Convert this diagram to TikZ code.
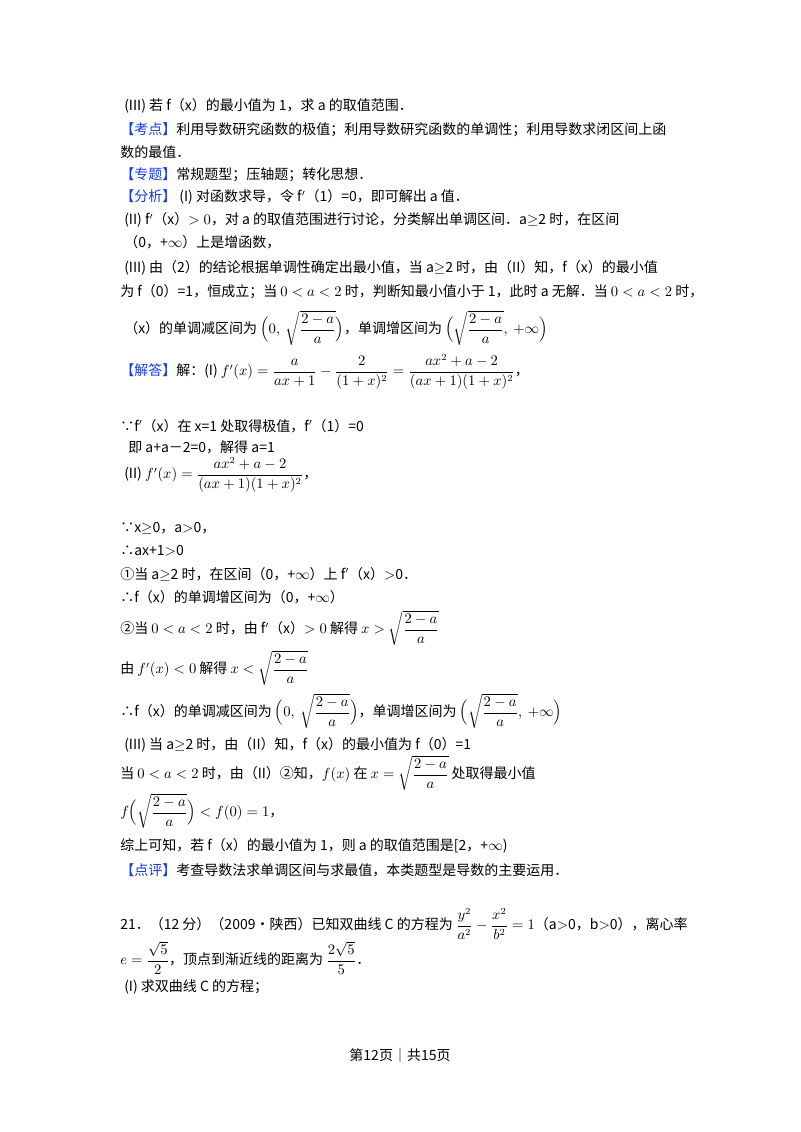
\documentclass[tikz,border=0pt]{standalone}
\usepackage{fontspec}
\usepackage{amsmath,amssymb}
\setmainfont{Noto Sans CJK SC}
\definecolor{kb}{RGB}{20,60,230}
\begin{document}
\begin{tikzpicture}[x=0.75pt,y=-0.75pt,
 t/.style={anchor=west,inner sep=0pt,font=\fontsize{10.5pt}{12pt}\selectfont}]
\useasboundingbox (0,0) rectangle (800,1132);
\node[t] (l1) at (124,106) {(III) 若 f（x）的最小值为 1，求 a 的取值范围．};
\node[t] (l2) at (120,130) {\textcolor{kb}{【考点】}利用导数研究函数的极值；利用导数研究函数的单调性；利用导数求闭区间上函};
\node[t] (l3) at (120,152) {数的最值．};
\node[t] (l4) at (120,175) {\textcolor{kb}{【专题】}常规题型；压轴题；转化思想．};
\node[t] (l5) at (120,197) {\textcolor{kb}{【分析】} (I) 对函数求导，令 f$'$（1）=0，即可解出 a 值．};
\node[t] (l6) at (124,220) {(II) f$'$（x）$>0$，对 a 的取值范围进行讨论，分类解出单调区间．a$\geq$2 时，在区间};
\node[t] (l7) at (124,242) {（0，+$\infty$）上是增函数，};
\node[t] (l8) at (124,268) {(III) 由（2）的结论根据单调性确定出最小值，当 a$\geq$2 时，由（II）知，f（x）的最小值};
\node[t] (l9) at (120,292) {为 f（0）=1，恒成立；当 $0<a<2$ 时，判断知最小值小于 1，此时 a 无解．当 $0<a<2$ 时，};
\node[t] (l10) at (124,328) {（x）的单调减区间为 $\Big(0,\ \sqrt{\dfrac{2-a}{a}}\Big)$，单调增区间为 $\Big(\sqrt{\dfrac{2-a}{a}},\ +\infty\Big)$};
\node[t] (l11) at (120,372) {\textcolor{kb}{【解答】}解：(I) $f'(x)=\dfrac{a}{ax+1}-\dfrac{2}{(1+x)^2}=\dfrac{ax^2+a-2}{(ax+1)(1+x)^2}$，};
\node[t] (l12) at (120,426) {∵f$'$（x）在 x=1 处取得极值，f$'$（1）=0};
\node[t] (l13) at (128,447) {即 a+a－2=0，解得 a=1};
\node[t] (l14) at (124,475) {(II) $f'(x)=\dfrac{ax^2+a-2}{(ax+1)(1+x)^2}$，};
\node[t] (l15) at (120,528) {∵x$\geq$0，a$>$0，};
\node[t] (l16) at (120,551) {∴ax+1$>$0};
\node[t] (l17) at (120,574) {①当 a$\geq$2 时，在区间（0，+$\infty$）上 f$'$（x）$>$0．};
\node[t] (l18) at (120,597) {∴f（x）的单调增区间为（0，+$\infty$）};
\node[t] (l19) at (120,628) {②当 $0<a<2$ 时，由 f$'$（x）$>0$ 解得 $x>\sqrt{\dfrac{2-a}{a}}$};
\node[t] (l20) at (120,668) {由 $f'(x)<0$ 解得 $x<\sqrt{\dfrac{2-a}{a}}$};
\node[t] (l21) at (120,711) {∴f（x）的单调减区间为 $\Big(0,\ \sqrt{\dfrac{2-a}{a}}\Big)$，单调增区间为 $\Big(\sqrt{\dfrac{2-a}{a}},\ +\infty\Big)$};
\node[t] (l22) at (124,745) {(III) 当 a$\geq$2 时，由（II）知，f（x）的最小值为 f（0）=1};
\node[t] (l23) at (120,773) {当 $0<a<2$ 时，由（II）②知，$f(x)$ 在 $x=\sqrt{\dfrac{2-a}{a}}$ 处取得最小值};
\node[t] (l24) at (120,811) {$f\Big(\sqrt{\dfrac{2-a}{a}}\Big)<f(0)=1$，};
\node[t] (l25) at (120,846) {综上可知，若 f（x）的最小值为 1，则 a 的取值范围是[2，+$\infty$)};
\node[t] (l26) at (120,870) {\textcolor{kb}{【点评】}考查导数法求单调区间与求最值，本类题型是导数的主要运用．};
\node[t] (l27) at (120,924) {21．（12 分）（2009•陕西）已知双曲线 C 的方程为 $\dfrac{y^2}{a^2}-\dfrac{x^2}{b^2}=1$（a$>$0，b$>$0），离心率};
\node[t] (l28) at (120,958) {$e=\dfrac{\sqrt5}{2}$，顶点到渐近线的距离为 $\dfrac{2\sqrt5}{5}$．};
\node[t] (l29) at (124,987) {(I) 求双曲线 C 的方程；};
\node[font=\fontsize{10.5pt}{12pt}\selectfont,inner sep=0pt] (ft) at (400,1055) {第12页｜共15页};
\end{tikzpicture}
\end{document}
